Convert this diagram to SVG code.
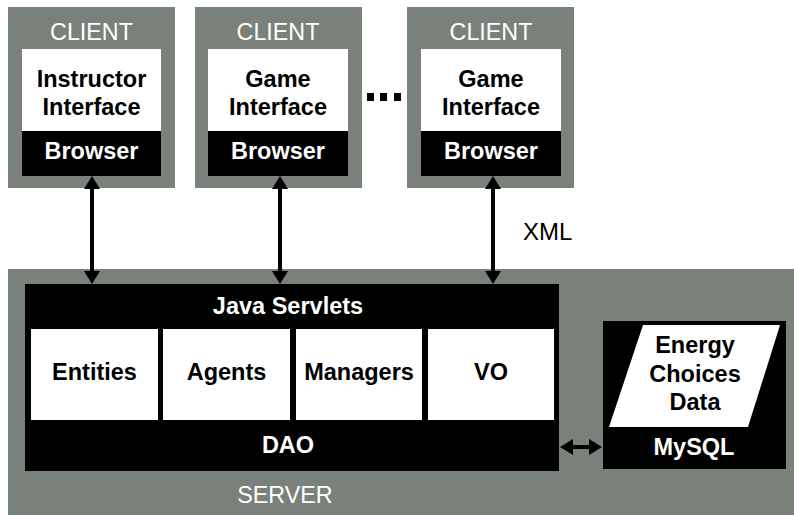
<svg xmlns="http://www.w3.org/2000/svg" width="794" height="515" viewBox="0 0 794 515">
  <defs>
    <style>
      .frame { fill: #7a817b; }
      .panel { fill: #ffffff; }
      .bar { fill: #000000; }
      .cap { font-family: "Liberation Sans", Arial, sans-serif; font-size: 23.3px; fill: #ffffff; text-anchor: middle; }
      .lbl { font-family: "Liberation Sans", Arial, sans-serif; font-size: 23.5px; font-weight: bold; fill: #000000; text-anchor: middle; }
      .lblw { font-family: "Liberation Sans", Arial, sans-serif; font-size: 23.5px; font-weight: bold; fill: #ffffff; text-anchor: middle; }
      .link { stroke: #000000; stroke-width: 4; fill: none; marker-start: url(#head); marker-end: url(#head); }
    </style>
    <marker id="head" viewBox="0 0 13 16" refX="3" refY="8" markerWidth="13" markerHeight="16" markerUnits="userSpaceOnUse" orient="auto-start-reverse">
      <path d="M0,0 L13,8 L0,16 Z" fill="#000000"/>
    </marker>
  </defs>

  <!-- Server area -->
  <g id="server">
    <rect class="frame" x="8" y="269" width="786" height="246"/>
    <text class="cap" x="285" y="503">SERVER</text>
  </g>

  <!-- Java servlet stack -->
  <g id="servlets">
    <rect class="bar" x="25" y="284" width="534" height="187"/>
    <text class="lblw" x="288" y="314">Java Servlets</text>
    <text class="lblw" x="288" y="453">DAO</text>
  </g>
  <g id="entities">
    <rect class="panel" x="31" y="329" width="127" height="91"/>
    <text class="lbl" x="94.5" y="380">Entities</text>
  </g>
  <g id="agents">
    <rect class="panel" x="163" y="329" width="127" height="91"/>
    <text class="lbl" x="226.5" y="380">Agents</text>
  </g>
  <g id="managers">
    <rect class="panel" x="296" y="329" width="126" height="91"/>
    <text class="lbl" x="359" y="380">Managers</text>
  </g>
  <g id="vo">
    <rect class="panel" x="428" y="329" width="126" height="91"/>
    <text class="lbl" x="491" y="380">VO</text>
  </g>

  <!-- Database -->
  <g id="mysql">
    <rect class="bar" x="603" y="321" width="183" height="148"/>
    <polygon class="panel" points="643,325 780,325 748,427 609,427"/>
    <text class="lbl" x="695" y="353">Energy</text>
    <text class="lbl" x="695" y="382">Choices</text>
    <text class="lbl" x="695" y="410">Data</text>
    <text class="lblw" x="694" y="455">MySQL</text>
  </g>

  <!-- Clients -->
  <g id="client-instructor">
    <rect class="frame" x="8" y="7" width="167" height="181"/>
    <text class="cap" x="91.5" y="40">CLIENT</text>
    <rect class="panel" x="22" y="49" width="139" height="82"/>
    <rect class="bar" x="22" y="131" width="139" height="45"/>
    <text class="lbl" x="91.5" y="87">Instructor</text>
    <text class="lbl" x="91.5" y="115">Interface</text>
    <text class="lblw" x="91.5" y="159">Browser</text>
  </g>
  <g id="client-game-1">
    <rect class="frame" x="195" y="7" width="167" height="181"/>
    <text class="cap" x="278" y="40">CLIENT</text>
    <rect class="panel" x="208" y="49" width="140" height="82"/>
    <rect class="bar" x="208" y="131" width="140" height="45"/>
    <text class="lbl" x="278" y="87">Game</text>
    <text class="lbl" x="278" y="115">Interface</text>
    <text class="lblw" x="278" y="159">Browser</text>
  </g>
  <g id="ellipsis">
    <rect class="bar" x="367" y="93" width="7" height="8"/>
    <rect class="bar" x="380" y="93" width="7" height="8"/>
    <rect class="bar" x="394" y="93" width="7" height="8"/>
  </g>
  <g id="client-game-n">
    <rect class="frame" x="407" y="7" width="167" height="181"/>
    <text class="cap" x="491" y="40">CLIENT</text>
    <rect class="panel" x="421" y="49" width="140" height="82"/>
    <rect class="bar" x="421" y="131" width="140" height="45"/>
    <text class="lbl" x="491" y="87">Game</text>
    <text class="lbl" x="491" y="115">Interface</text>
    <text class="lblw" x="491" y="159">Browser</text>
  </g>

  <!-- Connectors -->
  <g id="connectors">
    <line class="link" x1="92" y1="186" x2="92" y2="274"/>
    <line class="link" x1="280" y1="186" x2="280" y2="274"/>
    <line class="link" x1="493" y1="186" x2="493" y2="274"/>
    <line class="link" x1="570" y1="447" x2="592" y2="447"/>
    <text x="523" y="240" font-family="Liberation Sans, Arial, sans-serif" font-size="24" fill="#000000">XML</text>
  </g>
</svg>
